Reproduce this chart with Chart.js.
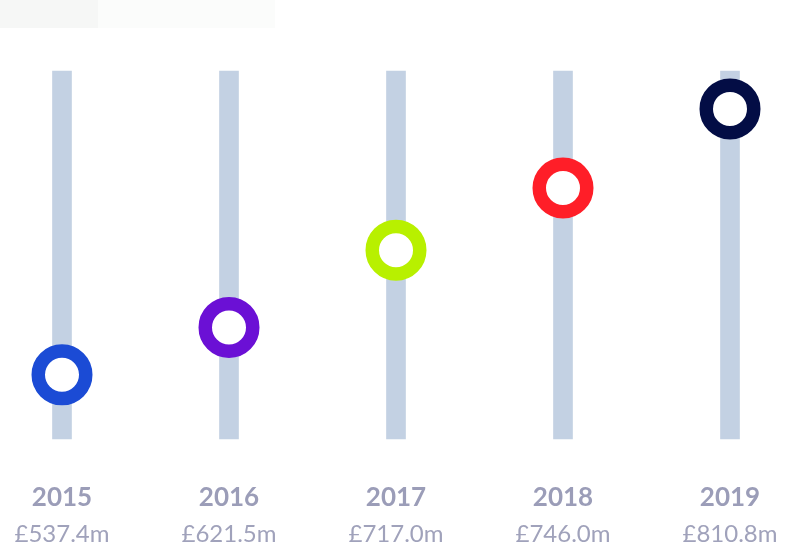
<!DOCTYPE html>
<html>
<head>
<meta charset="utf-8">
<script src="https://cdn.jsdelivr.net/npm/chart.js@4/dist/chart.umd.min.js"></script>
<style>
  html, body { margin: 0; padding: 0; background: #fff; }
  #wrap { position: relative; width: 785px; height: 547px; }
  .strip { position: absolute; top: 0; height: 28px; }
  #s1 { left: 0; width: 98px; background: #f6f7f6; }
  #s2 { left: 98px; width: 177px; background: #fbfcfb; }
  canvas { position: absolute; left: 0; top: 0; }
</style>
</head>
<body>
<div id="wrap">
  <div class="strip" id="s1"></div>
  <div class="strip" id="s2"></div>
  <canvas id="c" width="785" height="547"></canvas>
</div>
<script>
const years = ['2015', '2016', '2017', '2018', '2019'];
const valueLabels = ['£537.4m', '£621.5m', '£717.0m', '£746.0m', '£810.8m'];
// marker height along each track, as a share of the track (0 = bottom, 100 = top)
const markerLevels = [17.4, 30.3, 51.3, 68.2, 89.7];
const trackLevels = [100, 100, 100, 100, 100];
const markerColours = ['#1b4bd5', '#6b10d5', '#b8f000', '#ff1e28', '#030d45'];

const labelGrey = '#9b9db8';

new Chart(document.getElementById('c'), {
  data: {
    labels: years,
    datasets: [
      {
        type: 'line',
        data: markerLevels,
        showLine: false,
        pointRadius: 23.75,
        pointBorderWidth: 13.5,
        pointBackgroundColor: '#fff',
        pointBorderColor: markerColours,
        clip: false,
        order: 1,
      },
      {
        type: 'bar',
        data: trackLevels,
        backgroundColor: '#c3d1e3',
        barThickness: 19,
        clip: false,
        order: 2,
      },
    ],
  },
  options: {
    responsive: false,
    animation: false,
    events: [],
    layout: { padding: { top: 71, left: 62, right: 55, bottom: 0 } },
    plugins: { legend: { display: false }, tooltip: { enabled: false } },
    scales: {
      y: { display: false, min: 0, max: 100 },
      x: {
        offset: false,
        weight: 0,
        // tick marks hidden, their length only spaces the labels down
        grid: { display: false, drawTicks: true, tickLength: 43.5 },
        border: { display: false },
        ticks: {
          padding: 2,
          color: labelGrey,
          font: { family: 'Lato', size: 26, weight: 'bold', lineHeight: 1 },
          maxRotation: 0,
          autoSkip: false,
        },
      },
      x2: {
        type: 'category',
        position: 'bottom',
        offset: false,
        weight: 1,
        labels: valueLabels,
        grid: { display: false, drawTicks: true, tickLength: 10 },
        border: { display: false },
        ticks: {
          padding: 2,
          color: '#a0a2bb',
          font: { family: 'Lato', size: 24, lineHeight: 0.86 },
          maxRotation: 0,
          autoSkip: false,
        },
      },
    },
  },
});
</script>
</body>
</html>
